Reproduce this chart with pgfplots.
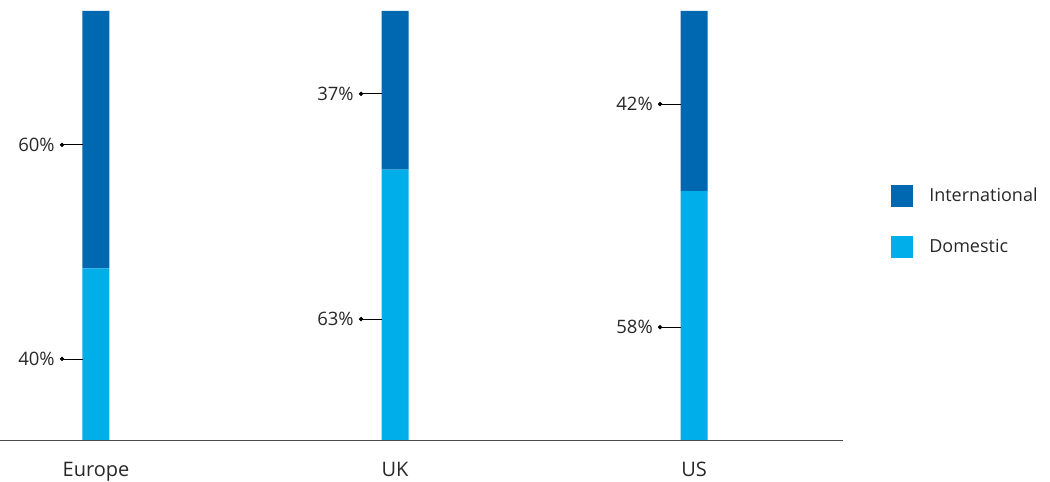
\documentclass[border=0pt]{standalone}
\usepackage{pgfplots}
\pgfplotsset{compat=1.18}
\usepackage{fontspec}
\setmainfont{Open Sans}
\definecolor{intl}{RGB}{0,103,177}
\definecolor{dom}{RGB}{0,174,233}
\definecolor{txt}{RGB}{40,40,40}
\begin{document}
\begin{tikzpicture}
\useasboundingbox (0,0) rectangle (1050pt,482pt);
\pgfplotsset{
  common/.style={
    width=843pt, height=429pt, scale only axis,
    at={(0pt,42pt)}, anchor=south west,
    xmin=-0.321, xmax=2.498, ymin=0, ymax=100,
    font=\fontsize{18.5}{22}\selectfont\color{txt},
  }
}
\begin{axis}[common,
  ybar stacked, bar width=27pt,
  axis x line*=bottom, axis y line=none,
  axis line style={-, draw=black!70, line width=0.8pt},
  xtick={0,1,2}, xticklabels={Europe,UK,US},
  xtick style={draw=none},
  xticklabel style={anchor=base, yshift=-37pt, font=\fontsize{20}{24}\selectfont\color{txt}},
  legend style={draw=none, fill=none, at={(1.057,0.510)}, anchor=west,
    row sep=29pt, inner sep=0pt, font=\fontsize{18}{21}\selectfont\color{txt},
    nodes={inner xsep=0pt, inner ysep=0pt},
    /tikz/every odd column/.append style={column sep=16pt}},
  legend cell align=left,
  reverse legend,
  legend image code/.code={\fill[#1, draw=none] (0pt,-11pt) rectangle (22pt,11pt);},
]
\addplot[fill=dom, draw=none] coordinates {(0,40) (1,63) (2,58)};
\addplot[fill=intl, draw=none] coordinates {(0,60) (1,37) (2,42)};
\legend{Domestic,International}
\end{axis}
\begin{axis}[common, hide axis]
\pgfplotsset{lab/.style={black, line width=0.7pt, mark=*, mark size=1.8pt, mark indices={1}}}
\addplot[lab] coordinates {(-0.1137,68.8) (-0.045,68.8)} node[pos=0,left,inner xsep=7pt,txt]{60\%};
\addplot[lab] coordinates {(-0.1137,18.9) (-0.045,18.9)} node[pos=0,left,inner xsep=7pt,txt]{40\%};
\addplot[lab] coordinates {(0.8863,80.7) (0.955,80.7)} node[pos=0,left,inner xsep=7pt,txt]{37\%};
\addplot[lab] coordinates {(0.8863,28.2) (0.955,28.2)} node[pos=0,left,inner xsep=7pt,txt]{63\%};
\addplot[lab] coordinates {(1.8863,78.3) (1.955,78.3)} node[pos=0,left,inner xsep=7pt,txt]{42\%};
\addplot[lab] coordinates {(1.8863,26.3) (1.955,26.3)} node[pos=0,left,inner xsep=7pt,txt]{58\%};
\end{axis}
\end{tikzpicture}
\end{document}
